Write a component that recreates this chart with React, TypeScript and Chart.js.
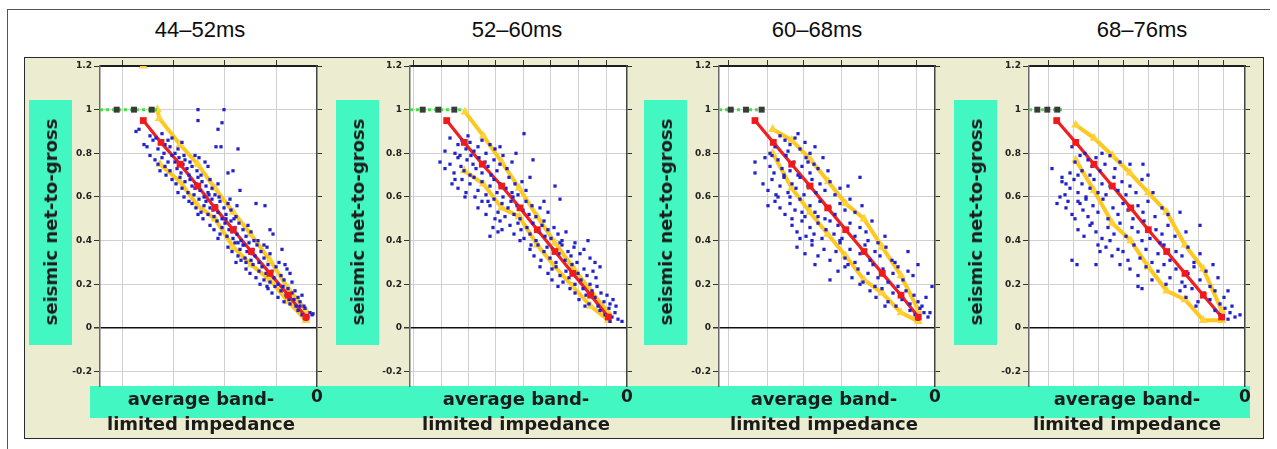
import React, { useEffect, useRef } from 'react';
import { Chart, registerables } from 'chart.js';
Chart.register(...registerables);
Chart.defaults.font.family = 'DejaVu Sans';

type P = [number, number];

const titles = ['44–52ms', '52–60ms', '60–68ms', '68–76ms'];
const yTicks = [-0.2, 0, 0.2, 0.4, 0.6, 0.8, 1, 1.2];
const yTickLabels = ['-0.2', '0', '0.2', '0.4', '0.6', '0.8', '1', '1.2'];
const yMin = -0.266;
const yMax = 1.2;
const xMax = 0;
const xMins = [-2170, -2170, -2160, -2160];

// ---------- panel 1 : 44–52ms ----------
const p1Grid = [-1950, -1440, -930, -410];
const p1Red: P[] = [[-1737, 0.95], [-1560, 0.85], [-1370, 0.75], [-1193, 0.65], [-1020, 0.55], [-837, 0.45], [-657, 0.35], [-470, 0.25], [-287, 0.15], [-110, 0.05]];
const p1Upper: P[] = [[-1597, 1.0], [-1577, 0.96], [-1370, 0.84], [-1193, 0.75], [-1020, 0.64], [-837, 0.53], [-663, 0.43], [-470, 0.31], [-287, 0.18], [-110, 0.08]];
const p1Lower: P[] = [[-1570, 0.75], [-1370, 0.67], [-1193, 0.56], [-1020, 0.5], [-837, 0.37], [-657, 0.29], [-470, 0.22], [-287, 0.12], [-110, 0.035]];
const p1Extra: P[] = [[-1737, 1.2]];
const p1Green: P[] = [[-2170, 1], [-2003, 1], [-1830, 1], [-1653, 1], [-1590, 1]];
const p1Scatter: P[] = [
  [-1810, 0.9], [-1780, 0.91], [-1730, 0.84], [-1700, 0.83], [-1670, 0.88], [-1640, 0.86], [-1610, 0.87], [-1590, 0.82], [-1570, 0.85], [-1550, 0.89], [-1530, 0.8], [-1520, 0.84], [-1490, 0.86], [-1470, 0.83], [-1450, 0.87], [-1420, 0.8], [-1390, 0.82], [-1350, 0.85], [-1330, 0.79], [-1190, 1.0], [-930, 1.0], [-1190, 0.95], [-950, 0.94], [-990, 0.91], [-1010, 0.83], [-960, 0.83], [-790, 0.82],
  [-1670, 0.79], [-1620, 0.77], [-1590, 0.75], [-1550, 0.78], [-1520, 0.74], [-1490, 0.76], [-1470, 0.72], [-1450, 0.79], [-1420, 0.76], [-1400, 0.73], [-1380, 0.78], [-1360, 0.71], [-1340, 0.75], [-1320, 0.77], [-1300, 0.73], [-1280, 0.7], [-1270, 0.76], [-1250, 0.74], [-1220, 0.79], [-1200, 0.72], [-1180, 0.78], [-1570, 0.72], [-1510, 0.7], [-890, 0.71], [-840, 0.72], [-1120, 0.76], [-1090, 0.74],
  [-1450, 0.68], [-1410, 0.66], [-1370, 0.69], [-1350, 0.64], [-1320, 0.67], [-1290, 0.62], [-1270, 0.68], [-1250, 0.65], [-1230, 0.61], [-1210, 0.66], [-1190, 0.69], [-1170, 0.63], [-1150, 0.67], [-1130, 0.6], [-1110, 0.65], [-1090, 0.62], [-1070, 0.68], [-1050, 0.64], [-1020, 0.61], [-990, 0.66], [-1330, 0.6], [-1390, 0.62], [-1220, 0.64], [-1160, 0.7], [-770, 0.63], [-1280, 0.58],
  [-1250, 0.57], [-1210, 0.55], [-1180, 0.59], [-1160, 0.53], [-1130, 0.56], [-1110, 0.58], [-1090, 0.52], [-1070, 0.55], [-1050, 0.59], [-1030, 0.51], [-1010, 0.56], [-990, 0.53], [-970, 0.58], [-950, 0.5], [-930, 0.55], [-910, 0.52], [-890, 0.57], [-860, 0.54], [-830, 0.5], [-800, 0.56], [-1140, 0.5], [-1080, 0.61], [-1040, 0.54], [-980, 0.6], [-610, 0.57], [-520, 0.56], [-1190, 0.52], [-870, 0.59],
  [-1070, 0.47], [-1030, 0.45], [-1000, 0.49], [-970, 0.43], [-950, 0.46], [-920, 0.48], [-900, 0.42], [-880, 0.45], [-860, 0.49], [-840, 0.41], [-820, 0.46], [-800, 0.43], [-780, 0.48], [-760, 0.4], [-740, 0.45], [-710, 0.42], [-690, 0.47], [-660, 0.44], [-630, 0.4], [-910, 0.5], [-850, 0.44], [-790, 0.39], [-730, 0.38], [-470, 0.45], [-440, 0.43], [-990, 0.41], [-810, 0.51],
  [-890, 0.37], [-850, 0.35], [-820, 0.39], [-790, 0.33], [-770, 0.36], [-740, 0.38], [-720, 0.32], [-700, 0.35], [-680, 0.39], [-660, 0.31], [-640, 0.36], [-620, 0.33], [-600, 0.38], [-580, 0.3], [-560, 0.35], [-530, 0.32], [-500, 0.37], [-470, 0.34], [-710, 0.3], [-650, 0.34], [-590, 0.4], [-760, 0.31], [-350, 0.36], [-530, 0.38], [-810, 0.3],
  [-710, 0.27], [-670, 0.25], [-640, 0.29], [-610, 0.23], [-580, 0.26], [-550, 0.28], [-530, 0.22], [-510, 0.25], [-490, 0.29], [-470, 0.21], [-450, 0.26], [-430, 0.23], [-410, 0.28], [-390, 0.2], [-360, 0.24], [-330, 0.22], [-300, 0.27], [-270, 0.25], [-570, 0.2], [-500, 0.19], [-380, 0.3], [-320, 0.29], [-250, 0.21],
  [-490, 0.18], [-450, 0.16], [-420, 0.19], [-390, 0.14], [-360, 0.17], [-330, 0.12], [-310, 0.15], [-290, 0.18], [-270, 0.11], [-250, 0.16], [-230, 0.13], [-210, 0.1], [-190, 0.14], [-170, 0.12], [-150, 0.15], [-340, 0.19], [-280, 0.13], [-220, 0.17], [-130, 0.1],
  [-190, 0.08], [-150, 0.06], [-120, 0.09], [-90, 0.05], [-70, 0.07], [-50, 0.06], [-110, 0.04], [-170, 0.1], [-40, 0.065],
];

// ---------- panel 2 : 52–60ms ----------
const p2Grid = [-2140, -1860, -1590, -1320, -1040, -770, -490, -210];
const p2Red: P[] = [[-1803, 0.95], [-1627, 0.85], [-1447, 0.75], [-1253, 0.65], [-1070, 0.55], [-897, 0.45], [-720, 0.35], [-543, 0.25], [-363, 0.15], [-187, 0.05]];
const p2Upper: P[] = [[-1620, 0.99], [-1437, 0.88], [-1253, 0.76], [-1077, 0.64], [-897, 0.51], [-720, 0.39], [-543, 0.28], [-363, 0.17], [-187, 0.07]];
const p2Lower: P[] = [[-1627, 0.72], [-1437, 0.66], [-1253, 0.55], [-1077, 0.51], [-897, 0.38], [-720, 0.28], [-543, 0.19], [-363, 0.1], [-187, 0.035]];
const p2Extra: P[] = [];
const p2Green: P[] = [[-2170, 1], [-2043, 1], [-1887, 1], [-1727, 1], [-1640, 1]];
const p2Scatter: P[] = [
  [-1770, 0.87], [-1720, 0.8], [-1690, 0.84], [-1650, 0.86], [-1610, 0.82], [-1570, 0.85], [-1530, 0.81], [-1490, 0.83], [-1450, 0.86], [-1410, 0.8], [-1370, 0.84], [-1320, 0.82], [-1270, 0.83], [-1030, 0.89], [-1110, 0.8], [-1590, 0.88], [-1820, 0.81],
  [-1870, 0.76], [-1820, 0.73], [-1770, 0.75], [-1730, 0.71], [-1690, 0.78], [-1660, 0.74], [-1630, 0.72], [-1600, 0.77], [-1570, 0.7], [-1540, 0.75], [-1510, 0.73], [-1480, 0.78], [-1450, 0.71], [-1420, 0.76], [-1390, 0.74], [-1360, 0.7], [-1330, 0.77], [-1300, 0.72], [-1270, 0.75], [-1240, 0.79], [-1200, 0.73], [-1150, 0.76], [-940, 0.77], [-1670, 0.79], [-1560, 0.79], [-1720, 0.68],
  [-1750, 0.66], [-1690, 0.64], [-1650, 0.68], [-1610, 0.62], [-1570, 0.66], [-1530, 0.69], [-1490, 0.63], [-1450, 0.67], [-1410, 0.61], [-1370, 0.65], [-1330, 0.68], [-1300, 0.62], [-1270, 0.66], [-1240, 0.6], [-1210, 0.64], [-1180, 0.69], [-1150, 0.62], [-1120, 0.66], [-1090, 0.61], [-1050, 0.67], [-1010, 0.63], [-970, 0.69], [-720, 0.65], [-1520, 0.6], [-1390, 0.58], [-1620, 0.6],
  [-1490, 0.55], [-1450, 0.58], [-1410, 0.52], [-1370, 0.56], [-1330, 0.59], [-1290, 0.53], [-1250, 0.57], [-1220, 0.51], [-1190, 0.55], [-1160, 0.58], [-1130, 0.52], [-1100, 0.56], [-1070, 0.5], [-1040, 0.54], [-1010, 0.58], [-980, 0.52], [-950, 0.56], [-910, 0.51], [-870, 0.55], [-830, 0.58], [-670, 0.59], [-1270, 0.49], [-1320, 0.5], [-1140, 0.6], [-790, 0.53],
  [-1370, 0.42], [-1340, 0.46], [-1290, 0.44], [-1250, 0.45], [-1170, 0.47], [-1130, 0.43], [-1090, 0.48], [-1060, 0.45], [-1030, 0.41], [-1000, 0.46], [-970, 0.43], [-940, 0.48], [-910, 0.4], [-880, 0.44], [-850, 0.47], [-820, 0.42], [-790, 0.45], [-760, 0.41], [-730, 0.46], [-690, 0.43], [-650, 0.4], [-610, 0.44], [-390, 0.4], [-1070, 0.4], [-960, 0.38], [-830, 0.49],
  [-970, 0.36], [-930, 0.33], [-890, 0.38], [-860, 0.31], [-830, 0.35], [-800, 0.37], [-770, 0.32], [-740, 0.36], [-710, 0.3], [-680, 0.34], [-650, 0.38], [-620, 0.31], [-590, 0.35], [-560, 0.33], [-530, 0.37], [-500, 0.3], [-470, 0.34], [-430, 0.36], [-870, 0.28], [-750, 0.27], [-670, 0.39], [-520, 0.39], [-370, 0.32],
  [-790, 0.25], [-750, 0.22], [-710, 0.28], [-670, 0.24], [-640, 0.21], [-610, 0.26], [-580, 0.23], [-550, 0.29], [-520, 0.2], [-490, 0.25], [-460, 0.22], [-430, 0.27], [-400, 0.24], [-370, 0.2], [-340, 0.26], [-310, 0.23], [-270, 0.28], [-690, 0.19], [-570, 0.18], [-320, 0.3],
  [-520, 0.16], [-480, 0.13], [-440, 0.18], [-410, 0.15], [-380, 0.11], [-350, 0.17], [-320, 0.14], [-290, 0.1], [-260, 0.16], [-230, 0.12], [-200, 0.15], [-170, 0.11], [-140, 0.13], [-420, 0.1], [-300, 0.19], [-110, 0.1],
  [-270, 0.08], [-220, 0.06], [-180, 0.09], [-150, 0.05], [-120, 0.07], [-90, 0.04], [-50, 0.03], [-170, 0.03],
];

// ---------- panel 3 : 60–68ms ----------
const p3Grid = [-2070, -1680, -1320, -940, -570, -190];
const p3Red: P[] = [[-1800, 0.95], [-1617, 0.85], [-1433, 0.75], [-1250, 0.65], [-1073, 0.55], [-893, 0.45], [-710, 0.35], [-527, 0.25], [-340, 0.15], [-167, 0.05]];
const p3Upper: P[] = [[-1623, 0.91], [-1433, 0.86], [-1243, 0.77], [-1067, 0.67], [-893, 0.57], [-710, 0.5], [-527, 0.37], [-340, 0.24], [-167, 0.08]];
const p3Lower: P[] = [[-1623, 0.8], [-1433, 0.64], [-1250, 0.53], [-1073, 0.43], [-893, 0.33], [-710, 0.22], [-527, 0.16], [-340, 0.07], [-167, 0.03]];
const p3Extra: P[] = [];
const p3Green: P[] = [[-2160, 1], [-2043, 1], [-1890, 1], [-1733, 1], [-1690, 1]];
const p3Scatter: P[] = [
  [-1550, 0.88], [-1500, 0.86], [-1450, 0.84], [-1400, 0.87], [-1350, 0.82], [-1300, 0.85], [-1470, 0.81], [-1600, 0.83], [-1650, 0.8], [-1250, 0.8], [-1200, 0.83], [-1370, 0.89],
  [-1800, 0.76], [-1800, 0.71], [-1700, 0.78], [-1650, 0.74], [-1610, 0.71], [-1570, 0.77], [-1530, 0.73], [-1490, 0.79], [-1450, 0.72], [-1410, 0.76], [-1370, 0.7], [-1330, 0.74], [-1290, 0.78], [-1250, 0.71], [-1210, 0.75], [-1170, 0.73], [-1120, 0.78], [-1070, 0.72], [-1630, 0.79], [-1510, 0.7], [-1270, 0.76],
  [-1720, 0.66], [-1670, 0.63], [-1630, 0.68], [-1590, 0.61], [-1550, 0.65], [-1510, 0.69], [-1470, 0.62], [-1430, 0.66], [-1390, 0.64], [-1350, 0.69], [-1310, 0.61], [-1270, 0.65], [-1230, 0.68], [-1190, 0.62], [-1150, 0.66], [-1100, 0.63], [-1050, 0.67], [-1000, 0.61], [-870, 0.65], [-750, 0.69], [-1570, 0.6], [-1450, 0.6], [-950, 0.64],
  [-1670, 0.56], [-1600, 0.58], [-1550, 0.55], [-1500, 0.52], [-1450, 0.57], [-1400, 0.54], [-1350, 0.59], [-1300, 0.51], [-1250, 0.56], [-1200, 0.53], [-1150, 0.58], [-1100, 0.5], [-1050, 0.55], [-1000, 0.52], [-950, 0.57], [-900, 0.54], [-850, 0.59], [-800, 0.53], [-1430, 0.5], [-1330, 0.53], [-1170, 0.51], [-730, 0.56],
  [-1430, 0.47], [-1380, 0.44], [-1330, 0.49], [-1290, 0.42], [-1250, 0.46], [-1210, 0.43], [-1170, 0.48], [-1130, 0.41], [-1090, 0.45], [-1050, 0.49], [-1010, 0.43], [-970, 0.47], [-930, 0.41], [-890, 0.45], [-850, 0.48], [-800, 0.42], [-750, 0.46], [-690, 0.44], [-630, 0.49], [-500, 0.42], [-1350, 0.41], [-1230, 0.4], [-950, 0.4], [-670, 0.4],
  [-1380, 0.37], [-1300, 0.34], [-1230, 0.38], [-1170, 0.33], [-1110, 0.36], [-1050, 0.31], [-990, 0.35], [-950, 0.39], [-900, 0.32], [-850, 0.36], [-800, 0.3], [-750, 0.34], [-700, 0.38], [-650, 0.31], [-600, 0.35], [-550, 0.33], [-490, 0.37], [-430, 0.31], [-270, 0.35], [-1200, 0.29], [-870, 0.29], [-570, 0.39],
  [-1050, 0.22], [-970, 0.26], [-900, 0.28], [-830, 0.23], [-770, 0.27], [-720, 0.21], [-670, 0.25], [-620, 0.29], [-570, 0.23], [-520, 0.27], [-470, 0.21], [-420, 0.25], [-370, 0.28], [-320, 0.22], [-270, 0.26], [-220, 0.24], [-750, 0.2], [-600, 0.19], [-400, 0.3], [-170, 0.29],
  [-650, 0.17], [-590, 0.14], [-530, 0.18], [-470, 0.12], [-420, 0.16], [-370, 0.19], [-330, 0.13], [-290, 0.17], [-250, 0.11], [-210, 0.15], [-170, 0.12], [-130, 0.1], [-90, 0.14], [-30, 0.19], [-500, 0.1], [-390, 0.1],
  [-250, 0.08], [-200, 0.06], [-150, 0.09], [-110, 0.07], [-70, 0.05], [-50, 0.07], [-170, 0.04],
];

// ---------- panel 4 : 68–76ms ----------
const p4Grid = [-1970, -1720, -1470, -1220, -970, -720, -470, -220];
const p4Red: P[] = [[-1883, 0.95], [-1693, 0.85], [-1510, 0.75], [-1327, 0.65], [-1143, 0.55], [-967, 0.45], [-783, 0.35], [-600, 0.25], [-417, 0.15], [-233, 0.05]];
const p4Upper: P[] = [[-1693, 0.93], [-1510, 0.87], [-1327, 0.79], [-1150, 0.71], [-967, 0.62], [-783, 0.53], [-600, 0.38], [-417, 0.27], [-233, 0.08]];
const p4Lower: P[] = [[-1693, 0.77], [-1510, 0.63], [-1327, 0.48], [-1143, 0.4], [-967, 0.28], [-783, 0.17], [-600, 0.13], [-417, 0.035], [-233, 0.035]];
const p4Extra: P[] = [];
const p4Green: P[] = [[-2160, 1], [-2077, 1], [-1977, 1], [-1877, 1], [-1800, 1]];
const p4Scatter: P[] = [
  [-1930, 0.73], [-1830, 0.69], [-1750, 0.71], [-1700, 0.76], [-1650, 0.79], [-1600, 0.8], [-1570, 0.77], [-1530, 0.74], [-1490, 0.78], [-1450, 0.72], [-1400, 0.75], [-1350, 0.79], [-1300, 0.73], [-1250, 0.76], [-1150, 0.75], [-1020, 0.75], [-970, 0.7], [-1730, 0.83], [-1630, 0.72], [-1790, 0.66], [-1670, 0.7], [-1550, 0.7], [-1430, 0.8],
  [-1880, 0.57], [-1830, 0.67], [-1800, 0.61], [-1750, 0.64], [-1710, 0.68], [-1670, 0.62], [-1630, 0.66], [-1590, 0.6], [-1550, 0.64], [-1510, 0.68], [-1470, 0.62], [-1430, 0.66], [-1390, 0.61], [-1350, 0.65], [-1310, 0.69], [-1270, 0.63], [-1230, 0.67], [-1190, 0.61], [-1150, 0.65], [-1090, 0.62], [-920, 0.62], [-1030, 0.68], [-1770, 0.58], [-1650, 0.57], [-1850, 0.6],
  [-1790, 0.55], [-1730, 0.52], [-1670, 0.58], [-1620, 0.54], [-1570, 0.51], [-1520, 0.56], [-1470, 0.53], [-1420, 0.59], [-1370, 0.5], [-1320, 0.55], [-1270, 0.52], [-1220, 0.57], [-1170, 0.54], [-1120, 0.5], [-1070, 0.56], [-1020, 0.53], [-970, 0.58], [-900, 0.51], [-830, 0.55], [-1700, 0.5], [-1530, 0.48], [-1590, 0.59], [-770, 0.52],
  [-1670, 0.45], [-1610, 0.42], [-1550, 0.47], [-1490, 0.44], [-1430, 0.41], [-1370, 0.46], [-1310, 0.43], [-1250, 0.48], [-1190, 0.42], [-1130, 0.46], [-1070, 0.44], [-1010, 0.49], [-950, 0.41], [-890, 0.45], [-830, 0.43], [-770, 0.47], [-700, 0.42], [-650, 0.53], [-450, 0.47], [-1350, 0.4], [-1470, 0.38], [-590, 0.44],
  [-1730, 0.31], [-1680, 0.29], [-1490, 0.29], [-1450, 0.35], [-1390, 0.37], [-1330, 0.33], [-1270, 0.36], [-1220, 0.35], [-1170, 0.31], [-1110, 0.38], [-1050, 0.32], [-990, 0.36], [-930, 0.3], [-870, 0.34], [-810, 0.38], [-750, 0.31], [-690, 0.35], [-630, 0.33], [-570, 0.37], [-510, 0.3], [-450, 0.34], [-1250, 0.29], [-1030, 0.4], [-850, 0.39],
  [-1150, 0.27], [-1070, 0.24], [-990, 0.28], [-930, 0.22], [-870, 0.26], [-810, 0.29], [-750, 0.23], [-690, 0.27], [-630, 0.21], [-570, 0.25], [-510, 0.28], [-450, 0.22], [-390, 0.26], [-320, 0.29], [-270, 0.23], [-790, 0.2], [-600, 0.19],
  [-1070, 0.19], [-1030, 0.18], [-650, 0.17], [-590, 0.14], [-530, 0.18], [-470, 0.12], [-410, 0.16], [-350, 0.13], [-300, 0.17], [-250, 0.11], [-210, 0.14], [-170, 0.17], [-130, 0.1], [-490, 0.1], [-350, 0.19],
  [-300, 0.08], [-250, 0.06], [-200, 0.09], [-150, 0.07], [-100, 0.05], [-50, 0.06], [-170, 0.04],
];

const panelData = [
  { scatter: p1Scatter, red: p1Red, upper: p1Upper, lower: p1Lower, extra: p1Extra, green: p1Green, grid: p1Grid },
  { scatter: p2Scatter, red: p2Red, upper: p2Upper, lower: p2Lower, extra: p2Extra, green: p2Green, grid: p2Grid },
  { scatter: p3Scatter, red: p3Red, upper: p3Upper, lower: p3Lower, extra: p3Extra, green: p3Green, grid: p3Grid },
  { scatter: p4Scatter, red: p4Red, upper: p4Upper, lower: p4Lower, extra: p4Extra, green: p4Green, grid: p4Grid },
];

// ---------- layout (page pixels) ----------
const plotLefts = [100, 410, 719, 1029];
const plotWidths = [217, 217, 216, 216];
const plotTop = 66;
const plotHeight = 320;
const Y_AXIS_W = 45;
const Y2_W = 12;
const X2_H = 11;
const X_H = 29;
const titleCenters = [200, 517, 817, 1142];
const xLabelCenters = [201, 516, 824, 1127];
const yBoxLefts = [29, 336, 644, 954];
const CYAN = '#42f7c2';

const toXY = (a: P[]) => a.map(([x, y]) => ({ x, y }));

const whiteArea = {
  id: 'whiteArea',
  beforeDraw(chart: any) {
    const { ctx, chartArea } = chart;
    ctx.save();
    ctx.fillStyle = '#ffffff';
    ctx.fillRect(chartArea.left, chartArea.top, chartArea.right - chartArea.left, chartArea.bottom - chartArea.top);
    ctx.restore();
  },
};

function Panel({ idx }: { idx: number }) {
  const ref = useRef<HTMLCanvasElement>(null);
  const w = Y_AXIS_W + plotWidths[idx] + Y2_W;
  const h = X2_H + plotHeight + X_H;
  useEffect(() => {
    const d = panelData[idx];
    const xMin = xMins[idx];
    const greenRadius = d.green.map((_, i) => (i === 0 || i === d.green.length - 1 ? 0 : 4.2));
    const yellowLine = '#ffc81e';
    const yellowPt = '#ffd23a';
    const chart = new Chart(ref.current as HTMLCanvasElement, {
      type: 'scatter',
      data: {
        datasets: [
          { data: toXY(d.red), showLine: false, pointStyle: 'rect', pointRadius: 4.8, pointBackgroundColor: '#f01a1a', pointBorderWidth: 0, order: 0 } as any,
          { data: toXY(d.green), showLine: true, borderColor: '#44e044', borderWidth: 3, borderDash: [3, 3], pointStyle: 'rect', pointRadius: greenRadius, pointBackgroundColor: '#3a3a3a', pointBorderWidth: 0, order: 0 } as any,
          { data: toXY(d.scatter), showLine: false, pointStyle: 'rect', pointRadius: 2.3, pointBackgroundColor: '#2222cc', pointBorderWidth: 0, order: 1 } as any,
          { data: toXY(d.red), showLine: true, borderColor: '#ee2020', borderWidth: 3.2, pointRadius: 0, order: 2 } as any,
          { data: toXY(d.upper), showLine: true, borderColor: yellowLine, borderWidth: 4, pointStyle: 'triangle', pointRadius: 5.2, pointBackgroundColor: yellowPt, pointBorderWidth: 0, order: 3 } as any,
          { data: toXY(d.lower), showLine: true, borderColor: yellowLine, borderWidth: 4, pointStyle: 'triangle', pointRadius: 5.2, pointBackgroundColor: yellowPt, pointBorderWidth: 0, order: 3 } as any,
          { data: toXY(d.extra), showLine: false, pointStyle: 'triangle', pointRadius: 5.2, pointBackgroundColor: yellowPt, pointBorderWidth: 0, order: 3 } as any,
        ],
      },
      options: {
        animation: false,
        responsive: false,
        events: [],
        layout: { padding: 0 },
        plugins: { legend: { display: false }, tooltip: { enabled: false } },
        scales: {
          x: {
            type: 'linear', position: 'bottom', min: xMin, max: xMax,
            afterBuildTicks: (s: any) => { s.ticks = [...d.grid, 0].map((v) => ({ value: v })); },
            afterFit: (s: any) => { s.height = X_H; },
            grid: { color: (c: any) => (c.tick && c.tick.value === 0 ? 'rgba(0,0,0,0)' : '#d0d0d0'), lineWidth: 1, drawTicks: false },
            border: { display: false },
            ticks: { autoSkip: false, maxRotation: 0, padding: 1, color: '#1a1a1a', font: { family: 'DejaVu Sans', weight: 'bold', size: 17 }, callback: (v: any) => (v === 0 ? '0' : '') },
          },
          x2: {
            type: 'linear', position: 'top', min: xMin, max: xMax,
            afterBuildTicks: (s: any) => { s.ticks = d.grid.map((v) => ({ value: v })); },
            afterFit: (s: any) => { s.height = X2_H; },
            grid: { drawOnChartArea: false, drawTicks: true, tickLength: 6, color: '#333333', lineWidth: 1 },
            border: { display: true, color: '#1e1e1e', width: 2 },
            ticks: { display: false },
          },
          y: {
            type: 'linear', position: 'left', min: yMin, max: yMax,
            afterBuildTicks: (s: any) => { s.ticks = yTicks.map((v) => ({ value: v })); },
            afterFit: (s: any) => { s.width = Y_AXIS_W; },
            grid: {
              color: (c: any) => (c.tick && c.tick.value === 0 ? '#111111' : '#d0d0d0'),
              lineWidth: (c: any) => (c.tick && c.tick.value === 0 ? 1.5 : 1),
              tickColor: '#333333', tickLength: 6,
            },
            border: { display: true, color: '#6a6a6a', width: 1.5 },
            ticks: { autoSkip: false, padding: 2, color: '#222222', font: { family: 'DejaVu Sans', weight: 'bold', size: 9 }, callback: (_v: any, i: number) => yTickLabels[i] },
          },
          y2: {
            type: 'linear', position: 'right', min: yMin, max: yMax,
            afterBuildTicks: (s: any) => { s.ticks = yTicks.map((v) => ({ value: v })); },
            afterFit: (s: any) => { s.width = Y2_W; },
            grid: { drawOnChartArea: false, drawTicks: true, tickLength: 5, color: '#333333', lineWidth: 1 },
            border: { display: true, color: '#444444', width: 1.5 },
            ticks: { display: false },
          },
        },
      } as any,
      plugins: [whiteArea],
    });
    return () => chart.destroy();
  }, [idx]);
  return (
    <canvas
      ref={ref}
      width={w}
      height={h}
      style={{ position: 'absolute', left: plotLefts[idx] - Y_AXIS_W, top: plotTop - X2_H, width: w, height: h }}
    />
  );
}

export default function App() {
  const boldText: React.CSSProperties = { fontFamily: '"DejaVu Sans", sans-serif', fontWeight: 'bold', fontSize: 18, color: '#1b1b1b', whiteSpace: 'nowrap' };
  return (
    <div style={{ position: 'absolute', left: 0, top: 0, width: 1277, height: 449, background: '#ffffff', overflow: 'hidden' }}>
      <div style={{ position: 'absolute', left: 7, top: 9, width: 1263, height: 450, borderTop: '1.5px solid #555', borderLeft: '1.5px solid #555', boxSizing: 'border-box' }} />
      {titles.map((t, i) => (
        <div key={'t' + i} style={{ position: 'absolute', left: titleCenters[i] - 100, top: 17, width: 200, height: 26, lineHeight: '26px', textAlign: 'center', fontFamily: '"Liberation Sans", Arial, sans-serif', fontSize: 22, color: '#0d0d0d' }}>{t}</div>
      ))}
      <div style={{ position: 'absolute', left: 24, top: 57, width: 1240, height: 382, background: '#ececd0', border: '1.5px solid #2a2a2a', boxSizing: 'border-box' }} />
      <div style={{ position: 'absolute', left: 90, top: 386, width: 1160, height: 32, background: CYAN }} />
      {yBoxLefts.map((l, i) => (
        <div key={'yb' + i} style={{ position: 'absolute', left: l, top: 100, width: 43, height: 245, background: CYAN }} />
      ))}
      {[0, 1, 2, 3].map((i) => <Panel key={'p' + i} idx={i} />)}
      {xLabelCenters.map((c, i) => (
        <React.Fragment key={'xl' + i}>
          <div style={{ ...boldText, position: 'absolute', left: c - 150, width: 300, top: 386, height: 25, lineHeight: '25px', textAlign: 'center' }}>average band-</div>
          <div style={{ ...boldText, position: 'absolute', left: c - 150, width: 300, top: 411, height: 25, lineHeight: '25px', textAlign: 'center' }}>limited impedance</div>
        </React.Fragment>
      ))}
      {yBoxLefts.map((l, i) => (
        <div key={'yl' + i} style={{ ...boldText, position: 'absolute', left: l + 22, top: 222, lineHeight: '20px', transform: 'translate(-50%, -50%) rotate(-90deg)' }}>seismic net-to-gross</div>
      ))}
    </div>
  );
}
